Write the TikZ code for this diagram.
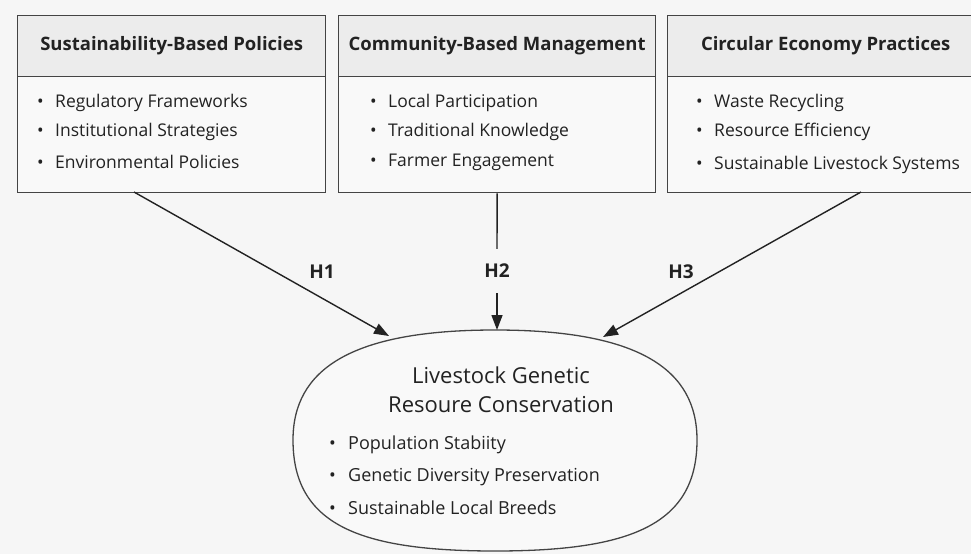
\documentclass[tikz,border=0pt]{standalone}
\usepackage{fontspec}
\setmainfont{Open Sans}
\usetikzlibrary{arrows.meta}
\definecolor{bg}{HTML}{F6F6F6}
\definecolor{hdr}{HTML}{ECECEC}
\definecolor{bodyc}{HTML}{F9F9F9}
\definecolor{ln}{HTML}{444444}
\definecolor{tx}{HTML}{222222}
\newcommand{\bul}{\makebox[18pt][l]{•}}
\newcommand{\ebul}{\makebox[19pt][l]{•}}
\tikzset{
  boxhdr/.style={draw=ln, line width=1.3pt, fill=hdr, anchor=north west, minimum height=61pt, inner sep=0pt, text=tx, font=\fontsize{18.5}{22}\selectfont\bfseries},
  boxbody/.style={draw=ln, line width=1.3pt, fill=bodyc, anchor=north west, minimum height=116pt, inner sep=0pt},
  item/.style={anchor=west, inner sep=0pt, text=tx, font=\fontsize{17.5}{21}\selectfont},
  eitem/.style={anchor=west, inner sep=0pt, text=tx, font=\fontsize{18}{21}\selectfont},
  etitle/.style={inner sep=0pt, text=tx, font=\fontsize{22}{26}\selectfont},
  hlab/.style={inner sep=0pt, text=tx, font=\fontsize{19}{22}\selectfont\bfseries},
  conn/.style={draw=tx, line width=1.4pt},
  arr/.style={conn, -{Triangle[length=15pt, width=11pt]}},
  outc/.style={draw=ln, line width=1.3pt, fill=bodyc}
}
\begin{document}
\begin{tikzpicture}[x=1pt, y=-1pt]
\useasboundingbox (0,0) rectangle (971,554);
\clip (0,0) rectangle (971,554);
\fill[bg] (0,0) rectangle (971,554);

% box 1
\node[boxbody, minimum width=308pt] (bd1) at (17,76) {};
\node[boxhdr, minimum width=308pt] (hd1) at (17,15) {Sustainability-Based Policies};
\node[item] (i11) at (37,103) {\bul Regulatory Frameworks};
\node[item] (i12) at (37,132) {\bul Institutional Strategies};
\node[item] (i13) at (37,162) {\bul Environmental Policies};

% box 2
\node[boxbody, minimum width=317pt] (bd2) at (338,76) {};
\node[boxhdr, minimum width=317pt] (hd2) at (338,15) {Community-Based Management};
\node[item] (i21) at (370,103) {\bul Local Participation};
\node[item] (i22) at (370,132) {\bul Traditional Knowledge};
\node[item] (i23) at (370,162) {\bul Farmer Engagement};

% box 3
\node[boxbody, minimum width=316pt] (bd3) at (667,76) {};
\node[boxhdr, minimum width=316pt] (hd3) at (667,15) {Circular Economy Practices};
\node[item] (i31) at (696,103) {\bul Waste Recycling};
\node[item] (i32) at (696,132) {\bul Resource Efficiency};
\node[item] (i33) at (696,165) {\bul Sustainable Livestock Systems};

% outcome shape
\path[outc] (293,440) .. controls (293,370) and (350,330) .. (495,330)
  .. controls (640,330) and (697,370) .. (697,440)
  .. controls (697,525) and (630,551) .. (495,551)
  .. controls (360,551) and (293,525) .. (293,440) -- cycle;
\node[etitle] (t1) at (501,375) {Livestock Genetic};
\node[etitle] (t2) at (501,405) {Resoure Conservation};
\node[eitem] (o1) at (329,445) {\ebul Population Stabiity};
\node[eitem] (o2) at (329,477) {\ebul Genetic Diversity Preservation};
\node[eitem] (o3) at (329,508) {\ebul Sustainable Local Breeds};

\coordinate (s1) at (134,192);
\coordinate (s3) at (861,192);
\coordinate (e1) at (389,336);
\coordinate (e2) at (497,330);
\coordinate (e3) at (603,337);

% connectors
\draw[arr] (s1) -- (e1);
\node[hlab] (H1) at (322,272) {H1};
\node[hlab, minimum height=44pt] (H2) at (497,271) {H2};
\draw[conn] (bd2.south) -- (H2.north);
\draw[arr] (H2.south) -- (e2);
\draw[arr] (s3) -- (e3);
\node[hlab] (H3) at (681,272) {H3};
\end{tikzpicture}
\end{document}
